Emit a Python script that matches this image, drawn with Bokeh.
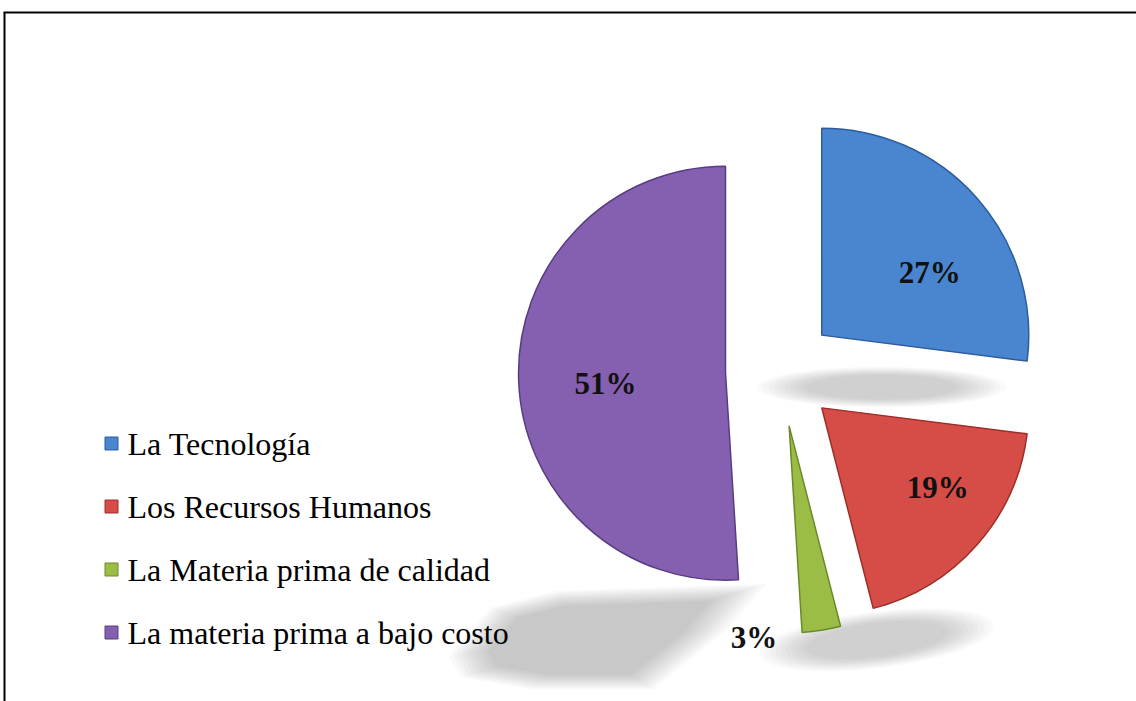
import math
import numpy as np
from bokeh.plotting import figure
from bokeh.models import Range1d, ColumnDataSource
from bokeh.core.properties import value
from bokeh.embed import file_html
from bokeh.resources import INLINE

# ---------------- data ----------------
categories = ["La Tecnología", "Los Recursos Humanos",
              "La Materia prima de calidad", "La materia prima a bajo costo"]
values = [27, 19, 3, 51]
labels = ["27%", "19%", "3%", "51%"]

# ---------------- style ----------------
colors = ["#4A86CF", "#D64C47", "#9CBD45", "#8560B0"]
edge_colors = ["#2C5C9C", "#9C2E2A", "#6A8A28", "#573C82"]
# label offsets from each exploded slice's tip (screen px: right, down)
label_offsets = [(108, -63), (116, 80), (-35, 212), (-120, 10)]

W, H = 1136, 701


def sx(X):
    return X


def sy(Y):
    return H - Y


p = figure(width=W, height=H, x_range=Range1d(0, W), y_range=Range1d(0, H),
           output_backend="svg", toolbar_location=None, min_border=0,
           x_axis_location=None, y_axis_location=None)
p.grid.visible = False
p.outline_line_color = None
p.background_fill_color = "white"
p.border_fill_color = "white"

# ---------------- pie geometry ----------------
O = (sx(780), sy(371))
R = 207
EXPLODE = 55

vals = np.array(values, dtype=float)
frac = vals / vals.sum()
theta_end = np.cumsum(frac) * 2 * math.pi          # clockwise from 12 o'clock
theta_start = theta_end - frac * 2 * math.pi
theta_mid = (theta_start + theta_end) / 2
cx = O[0] + EXPLODE * np.sin(theta_mid)
cy = O[1] + EXPLODE * np.cos(theta_mid)

# ---------------- soft shadows (decorative) ----------------
shadow_col = "#6f6f6f"
ell = [
    (0, 60, 52, 185, 30, 0.0),
    (1, 55, 232, 175, 42, 0.12),
]
for idx, dx, dy, w, h, ang in ell:
    for k in range(10):
        s = 1.35 - 0.06 * k
        p.ellipse(x=[cx[idx] + dx], y=[cy[idx] - dy], width=[w * s], height=[h * s],
                  angle=ang, fill_color=shadow_col, fill_alpha=0.03, line_color=None)

# purple shadow: slanted blob (offsets from purple slice tip, screen px)
poly_off = [(-255, 280), (-220, 240), (-165, 226), (10, 220), (-25, 260),
            (-85, 308), (-185, 308), (-245, 298)]
px_ = np.array([cx[3] + a for a, b in poly_off])
py_ = np.array([cy[3] - b for a, b in poly_off])
mx, my = px_.mean(), py_.mean()
for k in range(10):
    s = 1.2 - 0.04 * k
    p.patch(mx + (px_ - mx) * s, my + (py_ - my) * s, fill_color=shadow_col,
            fill_alpha=0.038, line_color=None)

# ---------------- slices ----------------
src = ColumnDataSource(dict(
    x=cx, y=cy,
    start=math.pi / 2 - theta_end, end=math.pi / 2 - theta_start,
    color=colors, edge=edge_colors, cat=categories))
p.wedge(x="x", y="y", radius=R, start_angle="start", end_angle="end",
        direction="anticlock", fill_color="color", line_color="edge",
        line_width=1.5, source=src)

# ---------------- percentage labels ----------------
lx = [cx[i] + label_offsets[i][0] for i in range(4)]
ly = [cy[i] - label_offsets[i][1] for i in range(4)]
p.text(x=lx, y=ly, text=labels, text_font=value("Liberation Serif"),
       text_font_style="bold", text_font_size="31px", text_color="#111111",
       text_align="center", text_baseline="middle")

# ---------------- legend ----------------
leg_x = sx(111)
leg_y0 = sy(443)
leg_dy = 63
ly_leg = [leg_y0 - i * leg_dy for i in range(len(categories))]
p.scatter(x=[leg_x] * 4, y=ly_leg, marker="square", size=13,
          fill_color=colors, line_color=edge_colors, line_width=1)
p.text(x=[leg_x + 16] * 4, y=ly_leg, text=categories,
       text_font=value("Liberation Serif"), text_font_size="32px",
       text_color="#000000", text_align="left", text_baseline="middle")

# ---------------- frame lines ----------------
p.segment(x0=[sx(3), sx(4)], y0=[sy(12), 0], x1=[W, sx(4)], y1=[sy(12), sy(12)],
          line_color="black", line_width=2)

open("out.html", "w").write(file_html(p, INLINE))
